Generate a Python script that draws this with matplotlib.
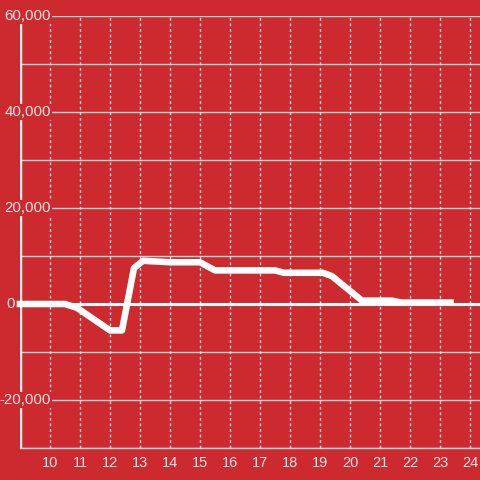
import matplotlib
matplotlib.use("Agg")
import matplotlib.pyplot as plt

plt.rcParams['font.family'] = ['Liberation Sans', 'DejaVu Sans']

# hour of day vs. value
hours = [9, 10.5, 10.9, 12.0, 12.4, 12.8, 13.1, 14.0, 15.0, 15.5, 17.5, 17.8,
         19.1, 19.4, 20.4, 21.4, 21.7, 23.35]
values = [0, 0, -800, -5500, -5500, 7500, 9000, 8700, 8700, 7000, 7000, 6500,
          6500, 5800, 700, 700, 300, 300]

x_ticks = list(range(10, 25))
y_grid = list(range(-30000, 60001, 10000))
y_labels = [-20000, 0, 20000, 40000, 60000]

bg = "#cc2a2e"
grid_c = "#d8d8d8"
text_c = "#f3e3e3"

x_min, x_max = 9, 9 + 460 / 30

fig = plt.figure(figsize=(4.8, 4.8), dpi=100, facecolor=bg)
ax = fig.add_axes([20 / 480, 32 / 480, 460 / 480, 432 / 480], facecolor=bg)
ax.set_xlim(x_min, x_max)
ax.set_ylim(-30000, 60000)

ax.set_xticks(x_ticks)
ax.set_xticklabels([str(t) for t in x_ticks], color=text_c, fontsize=10.5)
ax.set_yticks(y_grid)
ax.set_yticklabels([])
ax.tick_params(length=0, pad=6)

ax.grid(True, axis='y', color=grid_c, linewidth=1, linestyle='-')
ax.grid(True, axis='x', color=grid_c, linewidth=1, linestyle=(0, (2, 2)))

for s in ['top', 'right', 'left']:
    ax.spines[s].set_visible(False)
ax.spines['bottom'].set_color(grid_c)
ax.spines['bottom'].set_linewidth(1)

ax.axvline(x_min, color="#f4f0f0", linewidth=2.5, zorder=1.8)
ax.plot([x_min - 0.1, x_max], [0, 0], color="white", linewidth=2.2, zorder=1.8,
        clip_on=False, solid_capstyle='butt')

ax.plot(hours, values, color="white", linewidth=4.7, solid_joinstyle='round',
        solid_capstyle='projecting', zorder=3, clip_on=False)

for v in y_labels:
    tx = x_min - 0.17 if v == 0 else x_min + 1.03
    ax.text(tx, v, f"{v:,}", ha='right', va='center', color=text_c, fontsize=10.8,
            zorder=5, bbox=dict(facecolor=bg, edgecolor='none', pad=1.0))

fig.savefig("out.png", dpi=100, facecolor=bg)
